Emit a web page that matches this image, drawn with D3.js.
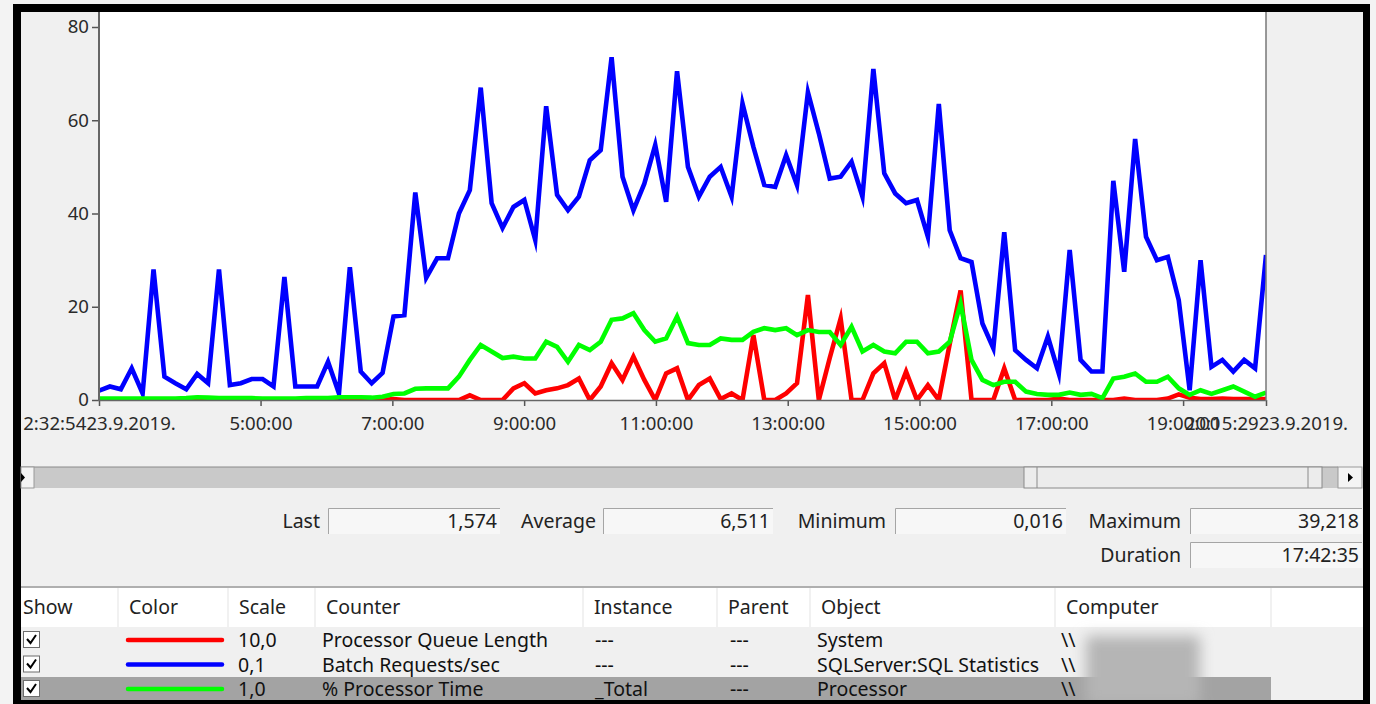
<!DOCTYPE html>
<html>
<head>
<meta charset="utf-8">
<script src="https://cdn.jsdelivr.net/npm/d3@7"></script>
<style>
body { margin: 0; background: #f3f3f3; }
svg { display: block; font-family: "Noto Sans", sans-serif; }
</style>
</head>
<body>
<div id="main"></div>
<script>
// log range, 23.9.2019.
var startTime = new Date(2019, 8, 23, 2, 32, 54);
var endTime = new Date(2019, 8, 23, 20, 15, 29);
var hourTicks = [5, 7, 9, 11, 13, 15, 17, 19];
var yTicks = [0, 20, 40, 60, 80];

// values as plotted (already multiplied by the counter scale)
var queueLength = [0, 0, 0, 0, 0, 0, 0, 0, 0, 0.3,
  0, 0, 0, 0, 0, 0, 0, 0, 0, 0,
  0, 0, 0.3, 0.3, 0.3, 0, 0, 0.2, 0, 0,
  0, 0, 0, 0, 1.0, 0, 0, 0, 2.5, 3.6,
  1.4, 2.1, 2.5, 3.2, 4.6, 0, 2.9, 7.9, 4.3, 9.3,
  4.3, 0, 5.7, 6.8, 0, 3.2, 4.6, 0.2, 1.4, 0,
  13.9, 0, 0, 1.4, 3.6, 22.5, 0, 9, 17.5, 0,
  0, 5.7, 7.9, 0, 6.1, 0, 3.2, 0, 12, 23.5,
  0, 0, 0, 6.8, 0, 0, 0, 0, 0.3, 0,
  0, 0, 0, 0, 0.3, 0, 0, 0, 0.3, 1.2,
  0.5, 0.2, 0.2, 0.3, 0.2, 0.2, 0.2, 0.2];

var batchRequests = [2.0, 2.9, 2.3, 6.8, 1.4, 28, 5.0, 3.6, 2.3, 5.6,
  3.6, 28, 3.2, 3.6, 4.5, 4.5, 2.9, 26.4, 2.9, 2.9,
  2.9, 8.2, 1.4, 28.5, 6.1, 3.6, 5.8, 17.9, 18.2, 44.5,
  26.2, 30.4, 30.4, 40, 45, 67, 42.2, 36.9, 41.4, 42.9,
  34.3, 63, 44, 40.7, 43.6, 51.4, 53.6, 73.5, 47.9, 40.7,
  46.4, 54.7, 42.5, 70.5, 50, 43.6, 47.9, 50, 43.6, 63.6,
  54.3, 46.1, 45.7, 52.5, 46.1, 66, 57.2, 47.5, 47.9, 51.1,
  43.6, 71, 48.6, 44.3, 42.2, 42.9, 35, 63.5, 36.4, 30.4,
  29.6, 16.4, 11.1, 36, 10.7, 8.6, 6.8, 13.6, 5.7, 32.2,
  8.6, 6.1, 6.1, 47, 27.5, 56, 35, 30, 30.7, 21.4,
  2.1, 30, 7.1, 8.6, 6.1, 8.6, 6.8, 31.1];

var processorTime = [0.3, 0.3, 0.3, 0.3, 0.3, 0.3, 0.3, 0.3, 0.4, 0.6,
  0.5, 0.4, 0.4, 0.4, 0.4, 0.3, 0.3, 0.3, 0.3, 0.4,
  0.4, 0.4, 0.6, 0.6, 0.6, 0.5, 0.7, 1.3, 1.4, 2.4,
  2.5, 2.5, 2.5, 5.0, 8.6, 11.8, 10.4, 9.0, 9.3, 8.9,
  8.9, 12.5, 11.4, 8.2, 11.8, 10.7, 12.5, 17.2, 17.5, 18.6,
  15.0, 12.5, 13.2, 17.9, 12.2, 11.8, 11.8, 13.2, 12.9, 12.9,
  14.6, 15.4, 15.0, 15.4, 13.9, 15.0, 14.6, 14.6, 11.8, 15.7,
  10.4, 11.8, 10.4, 10.0, 12.5, 12.5, 10.0, 10.4, 12.5, 20.7,
  8.6, 4.3, 3.2, 3.9, 3.9, 1.8, 1.3, 1.1, 1.1, 1.6,
  1.1, 1.3, 0.4, 4.6, 5.0, 5.7, 3.9, 3.9, 5.0, 2.5,
  1.1, 2.1, 1.3, 2.1, 2.9, 1.8, 0.7, 1.6];

var counters = ['Processor Queue Length', 'Batch Requests/sec', '% Processor Time'];
var scales = ['10,0', '0,1', '1,0'];
var instances = ['---', '---', '_Total'];
var parents = ['---', '---', '---'];
var objects = ['System', 'SQLServer:SQL Statistics', 'Processor'];
var colors = ['#ff0000', '#0000ff', '#00ff00'];
var columns = ['Show', 'Color', 'Scale', 'Counter', 'Instance', 'Parent', 'Object', 'Computer'];
var statNames = ['Last', 'Average', 'Minimum', 'Maximum', 'Duration'];
var statValues = ['1,574', '6,511', '0,016', '39,218', '17:42:35'];

var width = 1376,
    height = 704;

var plot = {left: 99, right: 1266, top: 12, bottom: 400};
var uiFont = "19.5px";

var svg = d3.select("#main").append("svg")
    .attr("width", width)
    .attr("height", height);

// black frame round the window
svg.append("rect").attr("x", 13).attr("y", 4).attr("width", 1357).attr("height", 710).attr("fill", "#000");
svg.append("rect").attr("x", 21).attr("y", 12).attr("width", 1342).attr("height", 688).attr("fill", "#f0f0f0");

svg.append("rect")
    .attr("x", plot.left).attr("y", plot.top)
    .attr("width", plot.right - plot.left).attr("height", plot.bottom - plot.top)
    .attr("fill", "#fff");

var x = d3.scaleTime()
    .domain([startTime, endTime])
    .range([plot.left, plot.right]);

var y = d3.scaleLinear()
    .domain([0, 80])
    .range([plot.bottom, 27]);

var n = batchRequests.length;
var times = d3.range(n).map(function(i) {
  return new Date(+startTime + i * (endTime - startTime) / (n - 1));
});

svg.append("clipPath").attr("id", "plotclip")
  .append("rect")
    .attr("x", plot.left).attr("y", plot.top)
    .attr("width", plot.right - plot.left).attr("height", plot.bottom - plot.top + 1);

var line = d3.line()
    .x(function(d, i) { return x(times[i]); })
    .y(function(d) { return y(d); });

var series = [queueLength, batchRequests, processorTime];
svg.append("g").attr("clip-path", "url(#plotclip)")
  .selectAll(".counter")
  .data(series)
  .enter().append("path")
    .attr("class", "counter")
    .attr("d", line)
    .attr("fill", "none")
    .attr("stroke", function(d, i) { return colors[i]; })
    .attr("stroke-width", 4.6)
    .attr("stroke-linejoin", "miter")
    .attr("stroke-miterlimit", 6);

// axes
var fmtTime = d3.timeFormat("%-H:%M:%S"),
    fmtDate = d3.timeFormat("%-d.%-m.%Y.");

var tickTimes = [startTime].concat(hourTicks.map(function(h) {
  return new Date(2019, 8, 23, h, 0, 0);
}), [endTime]);

var yAxis = d3.axisLeft(y).tickValues(yTicks).tickSize(7).tickPadding(3);
var gy = svg.append("g")
    .attr("transform", "translate(" + plot.left + ",0)")
    .call(yAxis);

var xAxis = d3.axisBottom(x)
    .tickValues(tickTimes)
    .tickSize(6)
    .tickPadding(11)
    .tickFormat(function(d) {
      if (+d === +startTime || +d === +endTime) return fmtTime(d) + fmtDate(d);
      return fmtTime(d);
    });
var gx = svg.append("g")
    .attr("transform", "translate(0," + plot.bottom + ")")
    .call(xAxis);

[gx, gy].forEach(function(g) {
  g.select(".domain").remove();
  g.selectAll("line").attr("stroke", "#555").attr("stroke-width", 1.5);
  g.selectAll("text").attr("fill", "#2a2a2a").style("font-size", "18.6px").style("font-family", "'Noto Sans', sans-serif");
});

svg.append("line").attr("x1", plot.left).attr("x2", plot.left).attr("y1", plot.top).attr("y2", plot.bottom + 1)
    .attr("stroke", "#666").attr("stroke-width", 2);
svg.append("line").attr("x1", plot.left).attr("x2", plot.right).attr("y1", plot.bottom + 0.5).attr("y2", plot.bottom + 0.5)
    .attr("stroke", "#666").attr("stroke-width", 1.5);
svg.append("line").attr("x1", plot.right).attr("x2", plot.right).attr("y1", plot.top).attr("y2", plot.bottom + 1)
    .attr("stroke", "#777").attr("stroke-width", 1.5);

// time range scrollbar
var sb = svg.append("g");
sb.append("rect").attr("x", 21).attr("y", 467).attr("width", 1317).attr("height", 21).attr("fill", "#c9c9c9");
sb.append("line").attr("x1", 21).attr("x2", 1338).attr("y1", 467).attr("y2", 467).attr("stroke", "#8a8a8a");
sb.append("rect").attr("x", 21).attr("y", 467).attr("width", 13).attr("height", 21).attr("fill", "#f4f4f4").attr("stroke", "#9a9a9a");
sb.append("path").attr("d", "M21,473L25,477.5L21,482Z").attr("fill", "#000");
sb.append("rect").attr("x", 1024).attr("y", 467).attr("width", 298).attr("height", 21).attr("fill", "#ececec").attr("stroke", "#8a8a8a");
sb.append("line").attr("x1", 1037).attr("x2", 1037).attr("y1", 467).attr("y2", 488).attr("stroke", "#8a8a8a");
sb.append("line").attr("x1", 1308).attr("x2", 1308).attr("y1", 467).attr("y2", 488).attr("stroke", "#8a8a8a");
sb.append("rect").attr("x", 1338).attr("y", 467).attr("width", 24).attr("height", 21).attr("fill", "#f4f4f4").attr("stroke", "#9a9a9a");
sb.append("path").attr("d", "M1348,473L1353,477.5L1348,482Z").attr("fill", "#000");

// statistics boxes
var statPos = [
  {label: 320, box: 328, end: 500, y: 508},
  {label: 596, box: 603, end: 773, y: 508},
  {label: 886, box: 895, end: 1066, y: 508},
  {label: 1181, box: 1190, end: 1362, y: 508},
  {label: 1181, box: 1190, end: 1362, y: 542}
];
var stats = svg.append("g").selectAll("g").data(statNames).enter().append("g");
stats.append("rect")
    .attr("x", function(d, i) { return statPos[i].box; })
    .attr("y", function(d, i) { return statPos[i].y; })
    .attr("width", function(d, i) { return statPos[i].end - statPos[i].box; })
    .attr("height", 26)
    .attr("fill", "#f7f7f7");
stats.append("path")
    .attr("d", function(d, i) {
      var p = statPos[i];
      return "M" + (p.box + 0.5) + "," + (p.y + 26) + "V" + (p.y + 0.5) + "H" + p.end;
    })
    .attr("fill", "none").attr("stroke", "#a5a5a5");
stats.append("text")
    .attr("x", function(d, i) { return statPos[i].label; })
    .attr("y", function(d, i) { return statPos[i].y + 20; })
    .attr("text-anchor", "end")
    .style("font-size", uiFont).attr("fill", "#222")
    .text(function(d) { return d; });
stats.append("text")
    .attr("x", function(d, i) { return statPos[i].end - 3; })
    .attr("y", function(d, i) { return statPos[i].y + 20; })
    .attr("text-anchor", "end")
    .style("font-size", uiFont).attr("fill", "#222")
    .text(function(d, i) { return statValues[i]; });

// counter table
var colX = [21, 118, 228, 315, 583, 717, 810, 1055, 1271];
var rowY = [640, 664.5, 689];
var table = svg.append("g");
table.append("line").attr("x1", 21).attr("x2", 1363).attr("y1", 587).attr("y2", 587).attr("stroke", "#9a9a9a").attr("stroke-width", 1.5);
table.append("rect").attr("x", 21).attr("y", 588).attr("width", 1342).attr("height", 39).attr("fill", "#fff");
table.selectAll(".coldiv").data(colX.slice(1)).enter().append("line")
    .attr("x1", function(d) { return d; }).attr("x2", function(d) { return d; })
    .attr("y1", 588).attr("y2", 627).attr("stroke", "#e3e3e3");
table.selectAll(".colhead").data(columns).enter().append("text")
    .attr("x", function(d, i) { return colX[i] + (i === 0 ? 2 : 11); })
    .attr("y", 614)
    .style("font-size", uiFont).attr("fill", "#222")
    .text(function(d) { return d; });

table.append("rect").attr("x", 21).attr("y", 677).attr("width", 1250).attr("height", 23).attr("fill", "#a3a3a3");

var rows = table.selectAll(".row").data(counters).enter().append("g")
    .attr("transform", function(d, i) { return "translate(0," + rowY[i] + ")"; });
rows.append("rect").attr("x", 23.5).attr("y", -8.5).attr("width", 16).attr("height", 16)
    .attr("fill", "#fff").attr("stroke", "#6d6d6d");
rows.append("path").attr("d", "M27,-1L30.5,3L36,-5").attr("fill", "none").attr("stroke", "#000").attr("stroke-width", 2);
rows.append("line").attr("x1", 128).attr("x2", 222).attr("y1", 0).attr("y2", 0)
    .attr("stroke", function(d, i) { return colors[i]; })
    .attr("stroke-width", 4.5).attr("stroke-linecap", "round");
var cells = [scales, counters, instances, parents, objects];
cells.forEach(function(list, c) {
  rows.append("text")
      .attr("x", [238, 322, 595, 730, 817][c])
      .attr("y", 7)
      .style("font-size", uiFont).attr("fill", "#111")
      .text(function(d, i) { return list[i]; });
});
rows.append("text").attr("x", 1061).attr("y", 7).style("font-size", uiFont).attr("fill", "#111").text("\\\\");

// blurred computer name
var blur = svg.append("filter").attr("id", "blur").attr("x", "-30%").attr("y", "-30%").attr("width", "160%").attr("height", "160%");
blur.append("feGaussianBlur").attr("stdDeviation", 7);
svg.append("rect").attr("x", 1086).attr("y", 636).attr("width", 114).attr("height", 70)
    .attr("fill", "#b5b5b5").attr("filter", "url(#blur)");

svg.append("rect").attr("x", 13).attr("y", 700).attr("width", 1357).attr("height", 4).attr("fill", "#000");
</script>
</body>
</html>
